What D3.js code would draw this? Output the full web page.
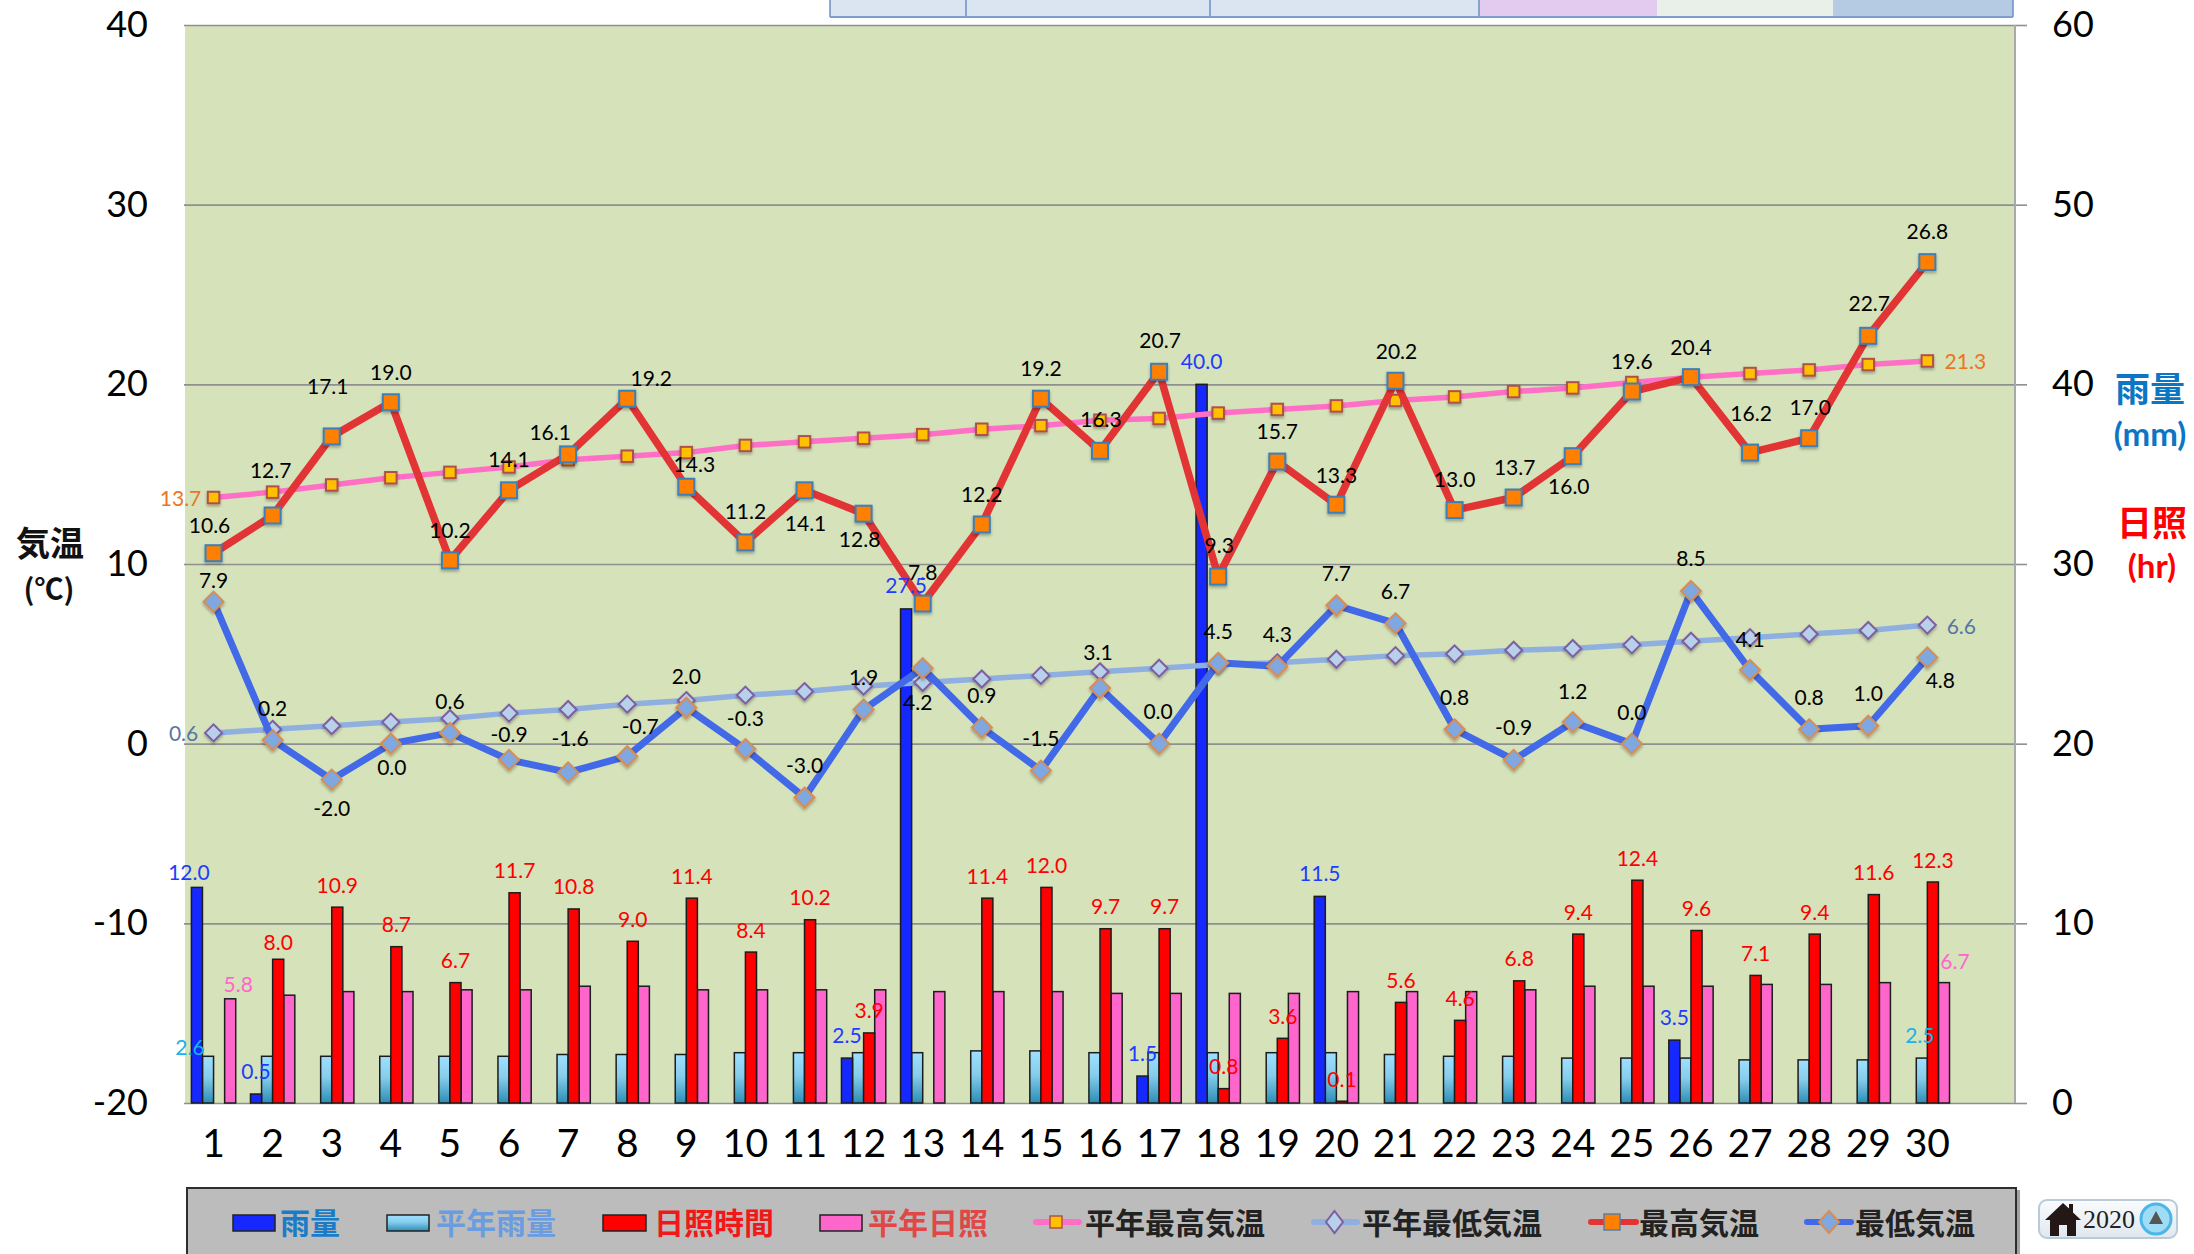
<!DOCTYPE html>
<html><head><meta charset="utf-8">
<script src="https://cdn.jsdelivr.net/npm/d3@7"></script>
<style>
html,body{margin:0;padding:0;background:#fff;overflow:hidden}
svg{display:block}
text{font-family:Lato,"Open Sans",sans-serif}
.cjk{font-family:"Noto Sans CJK JP",sans-serif}
</style></head><body>
<svg id="c" width="2194" height="1254"></svg>
<script>
const days = d3.range(1, 32);
const dayLabels = d3.range(1, 31);
const tempTicks = [-20,-10,0,10,20,30,40];
const rightTicks = [0,10,20,30,40,50,60];

const rain = [12.0,0.5,null,null,null,null,null,null,null,null,null,2.5,27.5,null,null,null,1.5,40.0,null,11.5,null,null,null,null,null,3.5,null,null,null,null];
const normalRain = [2.6,2.6,2.6,2.6,2.6,2.6,2.7,2.7,2.7,2.8,2.8,2.8,2.8,2.9,2.9,2.8,2.8,2.8,2.8,2.8,2.7,2.6,2.6,2.5,2.5,2.5,2.4,2.4,2.4,2.5];
const sunshine = [null,8.0,10.9,8.7,6.7,11.7,10.8,9.0,11.4,8.4,10.2,3.9,null,11.4,12.0,9.7,9.7,0.8,3.6,0.1,5.6,4.6,6.8,9.4,12.4,9.6,7.1,9.4,11.6,12.3];
const normalSun = [5.8,6.0,6.2,6.2,6.3,6.3,6.5,6.5,6.3,6.3,6.3,6.3,6.2,6.2,6.2,6.1,6.1,6.1,6.1,6.2,6.2,6.2,6.3,6.5,6.5,6.5,6.6,6.6,6.7,6.7];
const tempMax = [10.6,12.7,17.1,19.0,10.2,14.1,16.1,19.2,14.3,11.2,14.1,12.8,7.8,12.2,19.2,16.3,20.7,9.3,15.7,13.3,20.2,13.0,13.7,16.0,19.6,20.4,16.2,17.0,22.7,26.8];
const tempMin = [7.9,0.2,-2.0,0.0,0.6,-0.9,-1.6,-0.7,2.0,-0.3,-3.0,1.9,4.2,0.9,-1.5,3.1,0.0,4.5,4.3,7.7,6.7,0.8,-0.9,1.2,0.0,8.5,4.1,0.8,1.0,4.8];
const normalMax = [13.7,14.0,14.4,14.8,15.1,15.4,15.8,16.0,16.2,16.6,16.8,17.0,17.2,17.5,17.7,18.0,18.1,18.4,18.6,18.8,19.1,19.3,19.6,19.8,20.1,20.4,20.6,20.8,21.1,21.3];
const normalMin = [0.6,0.8,1.0,1.2,1.4,1.7,1.9,2.2,2.4,2.7,2.9,3.2,3.4,3.6,3.8,4.0,4.2,4.4,4.5,4.7,4.9,5.0,5.2,5.3,5.5,5.7,5.9,6.1,6.3,6.6];

// hand-placed data-label nudges of the original (px from the mark)
const maxDx = [-4,-2,-4,0,0,0,-18,24,8,0,1,-4,0,0,0,1,1,1,0,0,1,0,1,-4,0,0,1,1,1,0];
const maxDy = [-29,-46,-51,-31,-31,-32,-23,-21,-23,-32,32,25,-32,-31,-31,-32,-32,-32,-31,-30,-30,-32,-31,29,-31,-31,-40,-32,-33,-32];
const minDx = [0,0,0,1,0,0,2,13,0,0,0,0,-5,0,0,-2,-1,0,0,0,0,0,0,0,0,0,0,0,0,13];
const minDy = [-22,-33,28,23,-32,-26,-35,-31,-32,-32,-33,-33,33,-33,-33,-36,-33,-32,-33,-33,-33,-33,-33,-32,-32,-33,-32,-33,-33,22];

const plot = {l:185, r:2015, t:25, b:1103};
const svg = d3.select("#c");
const hyphen = d3.formatLocale({decimal:".",thousands:",",grouping:[3],currency:["",""],minus:"-"});
const f1 = hyphen.format(".1f"), f0 = hyphen.format("d");
const defs = svg.append("defs");
const grad = defs.append("linearGradient").attr("id","lb").attr("x1",0).attr("x2",0).attr("y1",0).attr("y2",1);
grad.append("stop").attr("offset","0%").attr("stop-color","#9fdfff");
grad.append("stop").attr("offset","45%").attr("stop-color","#86cdec");
grad.append("stop").attr("offset","100%").attr("stop-color","#2c8db5");
const sh = defs.append("filter").attr("id","sh").attr("x","-30%").attr("y","-30%").attr("width","170%").attr("height","170%");
sh.append("feDropShadow").attr("dx",0).attr("dy",2).attr("stdDeviation",1.5).attr("flood-color","#000").attr("flood-opacity",.3);
const bg = defs.append("linearGradient").attr("id","btn").attr("x1",0).attr("x2",0).attr("y1",0).attr("y2",1);
bg.append("stop").attr("offset","0%").attr("stop-color","#fafcfe");
bg.append("stop").attr("offset","100%").attr("stop-color","#dfe7ef");

const x = d3.scaleBand().domain(days).range([184,2016]).paddingInner(.25).paddingOuter(.125);
const cx = d => x(d) + x.bandwidth()/2;
const bars = ["rain","normalRain","sunshine","normalSun"];
const x1 = d3.scaleBand().domain(bars).range([0,x.bandwidth()]);
const yT = d3.scaleLinear().domain([-20,40]).range([plot.b,plot.t]);
const yR = d3.scaleLinear().domain([0,60]).range([plot.b,plot.t]);

// top strip cut off by the crop
const strip = svg.append("g");
[[830,966,"#dbe4f1"],[966,1210,"#dbe4f1"],[1210,1479,"#dbe4f1"],[1479,1657,"#e2cbee"],[1657,1833,"#e9f0e9"],[1833,2013,"#b5cae3"]]
 .forEach(c=>strip.append("rect").attr("x",c[0]).attr("y",-2).attr("width",c[1]-c[0]).attr("height",19).attr("fill",c[2]));
[830,966,1210,1479,2013].forEach(v=>strip.append("line").attr("x1",v).attr("x2",v).attr("y1",0).attr("y2",17).attr("stroke","#6c90c4").attr("stroke-width",1.5));
strip.append("line").attr("x1",830).attr("x2",2013).attr("y1",17).attr("y2",17).attr("stroke","#7d9fd0").attr("stroke-width",2);

svg.append("rect").attr("x",plot.l).attr("y",plot.t).attr("width",plot.r-plot.l).attr("height",plot.b-plot.t).attr("fill","#d5e2ba");

// grid + axes
const gGrid = svg.append("g").attr("transform",`translate(${plot.r},0)`).call(
  d3.axisRight(yR).tickValues(rightTicks).tickSize(12).tickPadding(24).tickFormat(f0));
gGrid.select(".domain").remove();
gGrid.selectAll("text").attr("font-size",36).attr("fill","#000").attr("x",37);
gGrid.selectAll("line").attr("stroke","#8f8f8f").attr("stroke-width",1.6);
const gLines = svg.append("g").call(d3.axisLeft(yT).tickValues(tempTicks).tickSize(0).tickFormat(""));
gLines.select(".domain").remove();
gLines.selectAll("text").remove();
gLines.selectAll("line").attr("x1",plot.l-1).attr("x2",plot.r).attr("stroke","#8f8f8f").attr("stroke-width",1.6);
svg.append("line").attr("x1",plot.r).attr("x2",plot.r).attr("y1",plot.t).attr("y2",plot.b).attr("stroke","#a9a9a9").attr("stroke-width",2);

const gL = svg.append("g").attr("transform",`translate(${plot.l-37},0)`).call(
  d3.axisLeft(yT).tickValues(tempTicks).tickSize(0).tickPadding(0).tickFormat(f0));
gL.select(".domain").remove();
gL.selectAll("text").attr("font-size",36).attr("fill","#000");

const gX = svg.append("g").attr("transform",`translate(0,${plot.b})`).call(
  d3.axisBottom(x).tickValues(dayLabels).tickSize(0).tickPadding(26));
gX.select(".domain").remove();
gX.selectAll("text").attr("font-size",39).attr("fill","#000");

// bars
function drawBars(vals, key, fill){
  svg.append("g").selectAll("rect").data(vals.map((v,i)=>({v,d:i+1})).filter(o=>o.v!=null)).join("rect")
    .attr("x",o=>x(o.d)+x1(key)).attr("width",x1.bandwidth())
    .attr("y",o=>yR(o.v)).attr("height",o=>yR(0)-yR(o.v))
    .attr("fill",fill).attr("stroke","#1c1c1c").attr("stroke-width",1.5);
}
drawBars(normalSun,"normalSun","#ff66cc");
drawBars(normalRain,"normalRain","url(#lb)");
drawBars(sunshine,"sunshine","#ff0000");
drawBars(rain,"rain","#1428ff");

// lines
function drawLine(vals,color,w){
  svg.append("path").datum(vals).attr("fill","none").attr("stroke",color).attr("stroke-width",w)
    .attr("stroke-linejoin","round")
    .attr("d",d3.line().x((v,i)=>cx(i+1)).y(v=>yT(v)));
}
function drawSquares(vals,s,fill,stroke){
  svg.append("g").selectAll("rect").data(vals).join("rect")
    .attr("x",(v,i)=>cx(i+1)-s/2).attr("y",v=>yT(v)-s/2).attr("width",s).attr("height",s)
    .attr("fill",fill).attr("stroke",stroke).attr("stroke-width",2).attr("filter","url(#sh)");
}
function drawDiamonds(vals,r,fill,stroke){
  svg.append("g").selectAll("path").data(vals).join("path")
    .attr("d",(v,i)=>{const a=cx(i+1),b=yT(v);return `M${a},${b-r}L${a+r},${b}L${a},${b+r}L${a-r},${b}Z`;})
    .attr("fill",fill).attr("stroke",stroke).attr("stroke-width",2).attr("filter","url(#sh)");
}
drawLine(normalMax,"#ff6fc6",5.5);
drawSquares(normalMax,11.5,"#ffc000","#b0504a");
drawLine(normalMin,"#8fafe0",5.5);
drawDiamonds(normalMin,8.5,"#b9d0ea","#7c5fa0");
drawLine(tempMin,"#4169e8",7);
drawDiamonds(tempMin,10,"#7fa8e0","#d98c52");
drawLine(tempMax,"#e23434",7.5);
drawSquares(tempMax,16,"#ff7f00","#3c7fb8");

// data labels
const lab = svg.append("g").attr("font-size",21).attr("text-anchor","middle");
function label(px,py,t,col){
  lab.append("text").attr("x",px).attr("y",py).attr("fill",col).attr("dominant-baseline","central").text(t);
}
tempMax.forEach((v,i)=>label(cx(i+1)+maxDx[i],yT(v)+maxDy[i],f1(v),"#000"));
tempMin.forEach((v,i)=>label(cx(i+1)+minDx[i],yT(v)+minDy[i],f1(v),"#000"));
rain.forEach((v,i)=>{ if(v==null)return;
  const first=i===0;
  label(x(i+1)+x1("rain")+x1.bandwidth()/2+(first?-8:0),yR(v)+(first?-16:-24),f1(v),"#1e3cff");});
sunshine.forEach((v,i)=>{ if(v==null)return;
  label(x(i+1)+x1("sunshine")+x1.bandwidth()/2,yR(v)+(i===1?-18:-23),f1(v),"#ff0000");});
const endCol={rainN:"#19b2ea",sunN:"#ff66cc",maxN:"#ed7422",minN:"#5577a8"};
const last=29;
label(x(1)+x1("normalRain")+x1.bandwidth()/2-18,yR(normalRain[0])-10,f1(normalRain[0]),endCol.rainN);
label(x(30)+x1("normalRain")+x1.bandwidth()/2-2,yR(normalRain[last])-24,f1(normalRain[last]),endCol.rainN);
label(x(1)+x1("normalSun")+x1.bandwidth()/2+8,yR(normalSun[0])-15,f1(normalSun[0]),endCol.sunN);
label(x(30)+x1("normalSun")+x1.bandwidth()/2+11,yR(normalSun[last])-22,f1(normalSun[last]),endCol.sunN);
label(cx(1)-33,yT(normalMax[0]),f1(normalMax[0]),endCol.maxN);
label(cx(30)+38,yT(normalMax[last]),f1(normalMax[last]),endCol.maxN);
label(cx(1)-30,yT(normalMin[0]),f1(normalMin[0]),endCol.minN);
label(cx(30)+34,yT(normalMin[last]),f1(normalMin[last]),endCol.minN);

// axis titles
function title(t,px,py,size,col,cjk){
  svg.append("text").attr("x",px).attr("y",py).attr("text-anchor","middle").attr("dominant-baseline","central")
    .attr("font-size",size).attr("font-weight",700).attr("fill",col).attr("class",cjk?"cjk":null).text(t);
}
title("気温",50,541,34,"#111",true);
title("(℃)",49,587,29,"#111",true);
title("雨量",2150,386,35,"#0b76c4",true);
title("(mm)",2150,433,33,"#0b76c4",false);
title("日照",2152,520,35,"#ff0000",true);
title("(hr)",2152,565,33,"#ff0000",false);

// legend
svg.append("rect").attr("x",2015).attr("y",1190).attr("width",5).attr("height",70).attr("fill","#555").attr("opacity",.55);
svg.append("rect").attr("x",187).attr("y",1188).attr("width",1829).attr("height",80).attr("fill","#bcbcbc").attr("stroke","#2e2e2e").attr("stroke-width",2);
const lg = svg.append("g");
function legText(t,px,col){
  lg.append("text").attr("class","cjk").attr("x",px).attr("y",1221).attr("dominant-baseline","central")
    .attr("font-size",30).attr("font-weight",700).attr("fill",col).text(t);
}
function legSwatch(a,b,fill){
  lg.append("rect").attr("x",a).attr("y",1215).attr("width",b-a).attr("height",16).attr("fill",fill).attr("stroke","#222").attr("stroke-width",1.5);
}
function legLine(a,b,col,w){
  lg.append("line").attr("x1",a).attr("x2",b).attr("y1",1222).attr("y2",1222).attr("stroke",col).attr("stroke-width",w).attr("stroke-linecap","round");
}
legSwatch(233,275,"#1428ff"); legText("雨量",280,"#1a7cc8");
legSwatch(387,429,"url(#lb)"); legText("平年雨量",436,"#6a9cdf");
legSwatch(603,646,"#ff0000"); legText("日照時間",654,"#f01818");
legSwatch(820,862,"#ff66cc"); legText("平年日照",868,"#e04848");
legLine(1036,1079,"#ff6fc6",6);
lg.append("rect").attr("x",1050).attr("y",1216).attr("width",12).attr("height",12).attr("fill","#ffc000").attr("stroke","#b0504a").attr("stroke-width",1.5);
legText("平年最高気温",1085,"#222");
legLine(1314,1357,"#8fafe0",6);
lg.append("path").attr("d","M1334.5,1211L1343,1222L1334.5,1233L1326,1222Z").attr("fill","#b9d0ea").attr("stroke","#7c5fa0").attr("stroke-width",2);
legText("平年最低気温",1362,"#222");
legLine(1591,1636,"#e23434",6);
lg.append("rect").attr("x",1604).attr("y",1214).attr("width",16).attr("height",16).attr("fill","#ff7f00").attr("stroke","#5580a8").attr("stroke-width",1.5);
legText("最高気温",1639,"#222");
legLine(1807,1851,"#4169e8",6);
lg.append("path").attr("d","M1829,1211L1839,1222L1829,1233L1819,1222Z").attr("fill","#7fa8e0").attr("stroke","#d98c52").attr("stroke-width",2);
legText("最低気温",1855,"#222");

// year button
const b = svg.append("g");
b.append("rect").attr("x",2039).attr("y",1200).attr("width",138).attr("height",38).attr("rx",8).attr("fill","url(#btn)").attr("stroke","#b9cad8").attr("stroke-width",2);
b.append("path").attr("d","M2045,1220L2063,1203L2069,1208.5L2069,1204L2073,1204L2073,1212.5L2081,1220L2076,1220L2076,1236L2067,1236L2067,1225L2059,1225L2059,1236L2050,1236L2050,1220Z").attr("fill","#231815");
b.append("text").attr("x",2083).attr("y",1219).attr("dominant-baseline","central").attr("font-size",26).attr("font-weight",400)
  .style("font-family","'Liberation Serif',serif").attr("fill","#222").text("2020");
b.append("circle").attr("cx",2156).attr("cy",1219).attr("r",15).attr("fill","#9fdcf5").attr("stroke","#4cb6e6").attr("stroke-width",3);
b.append("path").attr("d","M2156,1211L2163,1224L2149,1224Z").attr("fill","#555");
</script>
</body></html>
